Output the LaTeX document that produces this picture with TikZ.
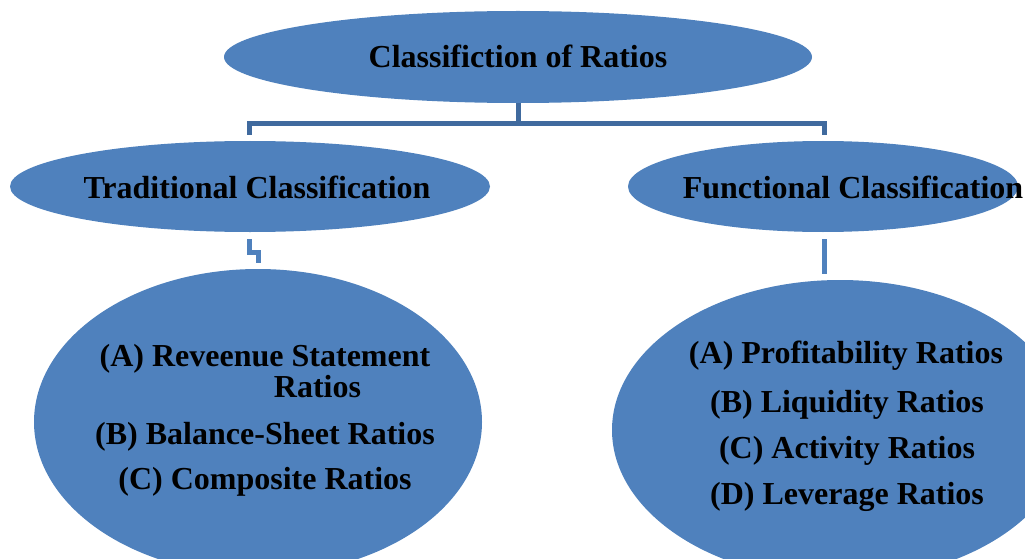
\documentclass[tikz,border=0pt]{standalone}
\usepackage{fontspec}
\setmainfont{Liberation Serif}
\usetikzlibrary{shapes.geometric}
\definecolor{ratioblue}{RGB}{79,129,189}
\definecolor{linkblue}{RGB}{64,106,158}

\begin{document}
\begin{tikzpicture}[x=1pt, y=-1pt,
    ratiobox/.style={ellipse, fill=ratioblue, inner sep=0pt},
    ratiotext/.style={anchor=base, inner sep=0pt, font=\bfseries\fontsize{32}{38}\selectfont},
    treelink/.style={draw=linkblue, line width=5pt},
    sublink/.style={draw=ratioblue, line width=5pt}]
    \useasboundingbox (0,0) rectangle (1025,559);
    \clip (0,0) rectangle (1025,559);

    % ellipses
    \node[ratiobox, minimum width=588pt, minimum height=92pt] (root) at (518,57) {};
    \node[ratiobox, minimum width=480pt, minimum height=91pt] (trad) at (250,186.5) {};
    \node[ratiobox, minimum width=390pt, minimum height=91pt] (func) at (823,186.5) {};
    \node[ratiobox, minimum width=448pt, minimum height=306pt] (tradlist) at (258,422) {};
    \node[ratiobox, minimum width=456pt, minimum height=300pt] (funclist) at (840,430) {};

    % texts
    \node[ratiotext] (roottxt) at (518,68) {Classifiction of Ratios};
    \node[ratiotext] (tradtxt) at (257,198) {Traditional Classification};
    \node[ratiotext] (functxt) at (853,198) {Functional Classification};

    \node[ratiotext] (tradA)  at (265,366)   {(A) Reveenue Statement};
    \node[ratiotext] (tradA2) at (317.5,397) {Ratios};
    \node[ratiotext] (tradB)  at (265,444)   {(B) Balance-Sheet Ratios};
    \node[ratiotext] (tradC)  at (265,489)   {(C) Composite Ratios};

    \node[ratiotext] (funcA) at (846,363) {(A) Profitability Ratios};
    \node[ratiotext] (funcB) at (847,412) {(B) Liquidity Ratios};
    \node[ratiotext] (funcC) at (847,458) {(C) Activity Ratios};
    \node[ratiotext] (funcD) at (847,504) {(D) Leverage Ratios};

    % connectors
    \coordinate (bar) at (518,124);
    \coordinate (jl) at (249,135);
    \coordinate (jr) at (824,135);
    \draw[treelink] (root.south) -- (bar);
    \draw[treelink] (jl) |- (bar) -| (jr);

    \coordinate (tl1) at (249.5,239);
    \coordinate (tl2) at (258,263);
    \coordinate (fl1) at (824,239);
    \coordinate (fl2) at (824,274);
    \draw[sublink] (tl1) -- ++(0,13) -| (tl2);
    \draw[sublink] (fl1) -- (fl2);
\end{tikzpicture}
\end{document}
